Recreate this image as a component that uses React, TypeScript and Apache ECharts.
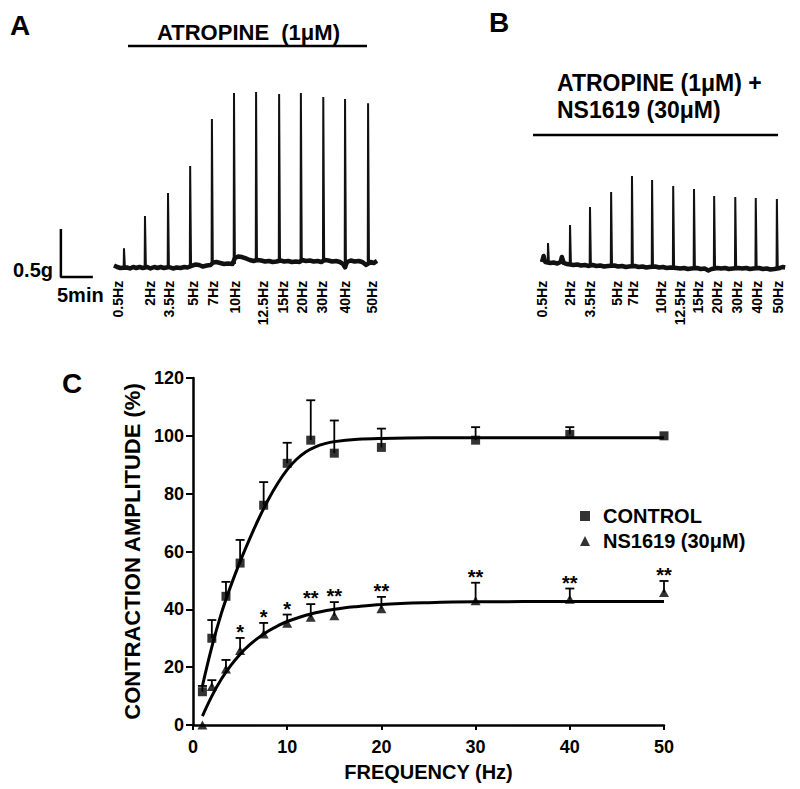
import React, { useEffect, useRef } from 'react';
import * as echarts from 'echarts';

const FONT = "'Liberation Sans', Arial, Helvetica, sans-serif";

// ---------- Panel A : ATROPINE (time in min, force in g) ----------
const freqLabels = ['0.5Hz', '2Hz', '3.5Hz', '5Hz', '7Hz', '10Hz', '12.5Hz', '15Hz', '20Hz', '30Hz', '40Hz', '50Hz'];
const spikeTimesA = [1.56, 4.84, 8.44, 11.9, 15.3, 18.75, 22.2, 25.8, 29.2, 32.7, 36.1, 39.7];
const spikePeaksA = [0.3, 0.635, 0.875, 1.156, 1.646, 1.917, 1.927, 1.906, 1.917, 1.875, 1.854, 1.81];
const spikeBaseA = [0.104, 0.104, 0.094, 0.115, 0.125, 0.135, 0.167, 0.156, 0.156, 0.156, 0.1, 0.146];
const labelTimesA = [0.63, 5.6, 8.6, 12.3, 15.5, 18.9, 23.3, 26.4, 29.4, 32.5, 36.1, 40.3];
const baselineTimesA = [0, 0.5, 1, 2, 2.5, 3, 3.5, 4, 4.5, 5.2, 5.7, 6.3, 6.8, 7.3, 7.8, 8.6, 9.2, 9.8, 10.4, 11, 11.5, 12.1, 12.7, 13.3, 13.9, 14.5, 15.1, 15.5, 16, 16.6, 17.2, 17.8, 18.5, 18.9, 19.4, 20, 20.6, 21.2, 21.8, 22.4, 23, 23.6, 24.2, 24.8, 25.4, 26, 26.6, 27.2, 27.8, 28.4, 29, 29.4, 30, 30.6, 31.2, 31.8, 32.4, 32.9, 33.5, 34.1, 34.7, 35.3, 35.8, 36.1, 36.4, 37, 37.6, 38.2, 38.8, 39.4, 40.1, 40.6, 41.1];
const baselineA = [0.12, 0.104, 0.094, 0.099, 0.089, 0.104, 0.094, 0.104, 0.094, 0.104, 0.089, 0.104, 0.094, 0.104, 0.094, 0.104, 0.089, 0.099, 0.094, 0.104, 0.099, 0.115, 0.13, 0.125, 0.109, 0.12, 0.125, 0.151, 0.156, 0.146, 0.135, 0.141, 0.135, 0.198, 0.214, 0.208, 0.193, 0.177, 0.167, 0.177, 0.172, 0.161, 0.167, 0.156, 0.161, 0.172, 0.161, 0.167, 0.156, 0.161, 0.156, 0.177, 0.167, 0.172, 0.161, 0.167, 0.156, 0.177, 0.172, 0.161, 0.167, 0.156, 0.135, 0.1, 0.156, 0.172, 0.161, 0.167, 0.156, 0.125, 0.156, 0.146, 0.167];

// ---------- Panel B : ATROPINE + NS1619 ----------
const spikeTimesB = [0.94, 4.38, 7.5, 10.8, 14.06, 17.2, 20.5, 23.75, 26.9, 30.2, 33.4, 36.7];
const spikePeaksB = [0.354, 0.542, 0.729, 0.885, 1.052, 1.01, 0.948, 0.917, 0.844, 0.833, 0.823, 0.8125];
const spikeBaseB = [0.151, 0.135, 0.12, 0.115, 0.109, 0.104, 0.094, 0.089, 0.089, 0.094, 0.089, 0.083];
const labelTimesB = [0, 4.4, 7.5, 11.7, 14.2, 18.6, 21.6, 24.4, 27.3, 30.5, 33.6, 36.9];
const baselineTimesB = [0, 0.25, 0.5, 1.3, 1.8, 2.4, 2.9, 3.1, 3.4, 3.9, 4.9, 5.5, 6.1, 6.7, 7.2, 7.9, 8.5, 9.1, 9.7, 10.3, 11.3, 11.9, 12.5, 13.1, 13.6, 14.5, 15.1, 15.7, 16.3, 16.8, 17.7, 18.3, 18.9, 19.5, 20.1, 21, 21.6, 22.2, 22.8, 23.3, 24.2, 24.8, 25.4, 26, 26.5, 27.4, 28, 28.6, 29.2, 29.8, 30.7, 31.3, 31.9, 32.5, 33, 33.9, 34.5, 35.1, 35.7, 36.3, 37.2, 37.6, 38];
const baselineB = [0.156, 0.219, 0.156, 0.146, 0.151, 0.141, 0.156, 0.208, 0.146, 0.135, 0.125, 0.13, 0.12, 0.125, 0.115, 0.125, 0.115, 0.12, 0.109, 0.115, 0.12, 0.109, 0.115, 0.104, 0.109, 0.115, 0.104, 0.109, 0.099, 0.104, 0.109, 0.099, 0.104, 0.094, 0.099, 0.094, 0.089, 0.094, 0.083, 0.089, 0.094, 0.083, 0.089, 0.068, 0.083, 0.094, 0.089, 0.094, 0.083, 0.089, 0.094, 0.089, 0.094, 0.083, 0.089, 0.094, 0.083, 0.089, 0.078, 0.083, 0.094, 0.104, 0.099];

// scale bar (min, g)
const scaleBarTime = 5;
const scaleBarForce = 0.5;

// ---------- Panel C : frequency-response ----------
const frequency = [1, 2, 3.5, 5, 7.5, 10, 12.5, 15, 20, 30, 40, 50];
const controlMean = [11.5, 30, 44.5, 56, 76, 90.5, 98.5, 94, 96, 98.5, 100.5, 100];
const controlUpper = [13.5, 36.3, 49.5, 64, 84, 97.6, 112.3, 105.3, 102.5, 103, 103, 100];
const nsMean = [0, 13.3, 19.4, 25.8, 31.5, 35.2, 37.3, 37.8, 40.2, 43, 43.5, 45.8];
const nsUpper = [0, 15.5, 22.5, 30.1, 35.3, 38.2, 41.8, 42.5, 44.3, 49.2, 47.2, 49.8];
const nsSignificance = ['', '', '', '*', '*', '*', '**', '**', '**', '**', '**', '**'];
const controlFitFreq = [1, 2, 3, 4, 5, 6, 7, 8, 9, 10, 11, 12, 13, 14, 15, 17.5, 20, 25, 30, 40, 50];
const controlFit = [13.5, 27, 38.5, 48, 56.5, 64.3, 71.5, 78, 83.6, 88.3, 91.9, 94.5, 96.2, 97.3, 98, 98.8, 99.1, 99.3, 99.3, 99.3, 99.3];
const nsFitFreq = [1, 2, 3, 4, 5, 6, 7, 8, 9, 10, 12.5, 15, 17.5, 20, 25, 30, 40, 50];
const nsFit = [3.1, 10, 15.8, 20.5, 24.5, 27.7, 30.3, 32.5, 34.3, 35.8, 38.4, 40, 41, 41.7, 42.3, 42.6, 42.7, 42.7];

const SERIES_CONTROL = 'CONTROL';
const SERIES_NS = 'NS1619 (30\u03bcM)';

function bold(size: number) {
  return `bold ${size}px ${FONT}`;
}

function traceSeries(grid: number, times: number[], base: number[], spT: number[], spB: number[], spP: number[], lblT: number[]) {
  return [
    {
      type: 'line',
      xAxisIndex: grid,
      yAxisIndex: grid,
      data: times.map((t, i) => [t, base[i]]),
      symbol: 'none',
      silent: true,
      lineStyle: { color: '#111', width: 4.5, join: 'round' },
      z: 2,
    },
    {
      type: 'custom',
      xAxisIndex: grid,
      yAxisIndex: grid,
      silent: true,
      data: spT.map((t, i) => [t, spB[i], spP[i]]),
      encode: { x: 0, y: [1, 2] },
      renderItem: (params: any, api: any) => {
        const t = api.value(0);
        const b = api.value(1);
        const p = api.value(2);
        const a = api.coord([t - 0.05, b]);
        const top = api.coord([t, p]);
        const c = api.coord([t + 0.14, b]);
        return {
          type: 'polyline',
          shape: { points: [a, top, c] },
          style: { stroke: '#111', lineWidth: 2, fill: 'none' },
        };
      },
      z: 3,
    },
    {
      type: 'custom',
      xAxisIndex: grid,
      yAxisIndex: grid,
      silent: true,
      data: lblT.map((t) => [t, -0.04]),
      renderItem: (params: any, api: any) => {
        const pt = api.coord([api.value(0), api.value(1)]);
        return {
          type: 'text',
          x: pt[0],
          y: pt[1],
          rotation: Math.PI / 2,
          style: {
            text: freqLabels[params.dataIndex],
            font: bold(14),
            fill: '#000',
            align: 'right',
            verticalAlign: 'middle',
          },
        };
      },
      z: 3,
    },
  ];
}

function errorSeries(mean: number[], upper: number[], sig: string[] | null) {
  return {
    type: 'custom',
    xAxisIndex: 2,
    yAxisIndex: 2,
    silent: true,
    data: frequency.map((f, i) => [f, mean[i], upper[i]]),
    encode: { x: 0, y: [1, 2] },
    renderItem: (params: any, api: any) => {
      const f = api.value(0);
      const m = api.value(1);
      const u = api.value(2);
      const p0 = api.coord([f, m]);
      const p1 = api.coord([f, u]);
      const children: any[] = [];
      if (u > m) {
        children.push({
          type: 'line',
          shape: { x1: p0[0], y1: p0[1], x2: p1[0], y2: p1[1] },
          style: { stroke: '#000', lineWidth: 1.8 },
        });
        children.push({
          type: 'line',
          shape: { x1: p1[0] - 4.5, y1: p1[1], x2: p1[0] + 4.5, y2: p1[1] },
          style: { stroke: '#000', lineWidth: 1.8 },
        });
      }
      const s = sig ? sig[params.dataIndex] : '';
      if (s) {
        children.push({
          type: 'text',
          x: p1[0],
          y: p1[1] + 4,
          style: { text: s, font: bold(20), fill: '#000', align: 'center', verticalAlign: 'bottom' },
        });
      }
      return { type: 'group', children };
    },
    z: 3,
  };
}

const hiddenAxis = (gridIndex: number, min: number, max: number) => ({
  gridIndex,
  type: 'value',
  min,
  max,
  show: false,
  splitLine: { show: false },
});

const option: any = {
  animation: false,
  backgroundColor: '#fff',
  textStyle: { fontFamily: FONT },
  grid: [
    { left: 56.4, top: 85, width: 320.64, height: 235.2, containLabel: false, outerBoundsMode: 'none' },
    { left: 542, top: 85, width: 243.2, height: 235.2, containLabel: false, outerBoundsMode: 'none' },
    { left: 193, top: 378, width: 471, height: 347, containLabel: false, outerBoundsMode: 'none' },
  ],
  xAxis: [
    hiddenAxis(0, -9, 41.1),
    hiddenAxis(1, 0, 38),
    {
      gridIndex: 2,
      type: 'value',
      min: 0,
      max: 50,
      interval: 10,
      axisLine: { show: true, onZero: false, lineStyle: { color: '#000', width: 2.5 } },
      axisTick: { show: true, length: 5, lineStyle: { color: '#000', width: 2 } },
      axisLabel: { margin: 13, fontSize: 18, fontWeight: 'bold', fontFamily: FONT, color: '#000' },
      splitLine: { show: false },
      name: 'FREQUENCY (Hz)',
      nameLocation: 'middle',
      nameGap: 37,
      nameTextStyle: { fontSize: 20, fontWeight: 'bold', fontFamily: FONT, color: '#000' },
    },
  ],
  yAxis: [
    hiddenAxis(0, -0.45, 2),
    hiddenAxis(1, -0.45, 2),
    {
      gridIndex: 2,
      type: 'value',
      min: 0,
      max: 120,
      interval: 20,
      axisLine: { show: true, onZero: false, lineStyle: { color: '#000', width: 2.5 } },
      axisTick: { show: true, length: 7, lineStyle: { color: '#000', width: 2 } },
      axisLabel: { margin: 9, fontSize: 18, fontWeight: 'bold', fontFamily: FONT, color: '#000' },
      splitLine: { show: false },
      name: 'CONTRACTION AMPLITUDE (%)',
      nameLocation: 'middle',
      nameRotate: 90,
      nameGap: 44,
      nameTextStyle: { fontSize: 22, fontWeight: 'bold', fontFamily: FONT, color: '#000' },
    },
  ],
  legend: {
    data: [SERIES_CONTROL, SERIES_NS],
    left: 580,
    top: 506,
    padding: 0,
    orient: 'vertical',
    itemGap: 5,
    itemWidth: 10,
    itemHeight: 10,
    selectedMode: false,
    textStyle: { fontSize: 20, fontWeight: 'bold', fontFamily: FONT, color: '#000', padding: [0, 0, 0, 8] },
  },
  graphic: [
    { type: 'text', x: 20, y: 25, style: { text: 'A', font: bold(28), fill: '#000', align: 'center', verticalAlign: 'middle' } },
    { type: 'text', x: 499, y: 22, style: { text: 'B', font: bold(28), fill: '#000', align: 'center', verticalAlign: 'middle' } },
    { type: 'text', x: 72, y: 383, style: { text: 'C', font: bold(28), fill: '#000', align: 'center', verticalAlign: 'middle' } },
    { type: 'text', x: 248.5, y: 32, style: { text: 'ATROPINE  (1\u03bcM)', font: bold(22), fill: '#000', align: 'center', verticalAlign: 'middle' } },
    { type: 'line', shape: { x1: 128, y1: 46, x2: 367, y2: 46 }, style: { stroke: '#000', lineWidth: 2.6 } },
    { type: 'text', x: 557, y: 83, style: { text: 'ATROPINE (1\u03bcM) +', font: bold(23), fill: '#000', align: 'left', verticalAlign: 'middle' } },
    { type: 'text', x: 557, y: 110, style: { text: 'NS1619 (30\u03bcM)', font: bold(23), fill: '#000', align: 'left', verticalAlign: 'middle' } },
    { type: 'line', shape: { x1: 533, y1: 135, x2: 778, y2: 135 }, style: { stroke: '#000', lineWidth: 2.6 } },
    { type: 'text', x: 53, y: 270, style: { text: '0.5g', font: bold(20), fill: '#000', align: 'right', verticalAlign: 'middle' } },
    { type: 'text', x: 57, y: 295, style: { text: '5min', font: bold(20), fill: '#000', align: 'left', verticalAlign: 'middle' } },
  ],
  series: [
    ...traceSeries(0, baselineTimesA, baselineA, spikeTimesA, spikeBaseA, spikePeaksA, labelTimesA),
    ...traceSeries(1, baselineTimesB, baselineB, spikeTimesB, spikeBaseB, spikePeaksB, labelTimesB),
    {
      type: 'line',
      xAxisIndex: 0,
      yAxisIndex: 0,
      silent: true,
      symbol: 'none',
      data: [
        [-8.3, scaleBarForce],
        [-8.3, 0],
        [-8.3 + scaleBarTime, 0],
      ],
      lineStyle: { color: '#000', width: 2.5 },
    },
    {
      type: 'line',
      xAxisIndex: 2,
      yAxisIndex: 2,
      silent: true,
      symbol: 'none',
      smooth: 0.4,
      data: controlFitFreq.map((f, i) => [f, controlFit[i]]),
      lineStyle: { color: '#000', width: 3 },
      z: 2,
    },
    {
      type: 'line',
      xAxisIndex: 2,
      yAxisIndex: 2,
      silent: true,
      symbol: 'none',
      smooth: 0.4,
      data: nsFitFreq.map((f, i) => [f, nsFit[i]]),
      lineStyle: { color: '#000', width: 3 },
      z: 2,
    },
    errorSeries(controlMean, controlUpper, null),
    errorSeries(nsMean, nsUpper, nsSignificance),
    {
      name: SERIES_CONTROL,
      type: 'scatter',
      xAxisIndex: 2,
      yAxisIndex: 2,
      symbol: 'rect',
      symbolSize: 9,
      itemStyle: { color: '#000' },
      data: frequency.map((f, i) => [f, controlMean[i]]),
      z: 4,
    },
    {
      name: SERIES_NS,
      type: 'scatter',
      xAxisIndex: 2,
      yAxisIndex: 2,
      symbol: 'triangle',
      symbolSize: [10, 9],
      itemStyle: { color: '#000' },
      data: frequency.map((f, i) => [f, nsMean[i]]),
      z: 4,
    },
  ],
};

export default function App() {
  const ref = useRef<HTMLDivElement>(null);
  useEffect(() => {
    if (!ref.current) return;
    const chart = echarts.init(ref.current, null, { renderer: 'svg' });
    chart.setOption(option);
    return () => chart.dispose();
  }, []);
  return (
    <div
      ref={ref}
      style={{ position: 'absolute', left: 0, top: 0, width: 800, height: 789, background: '#fff' }}
    />
  );
}
